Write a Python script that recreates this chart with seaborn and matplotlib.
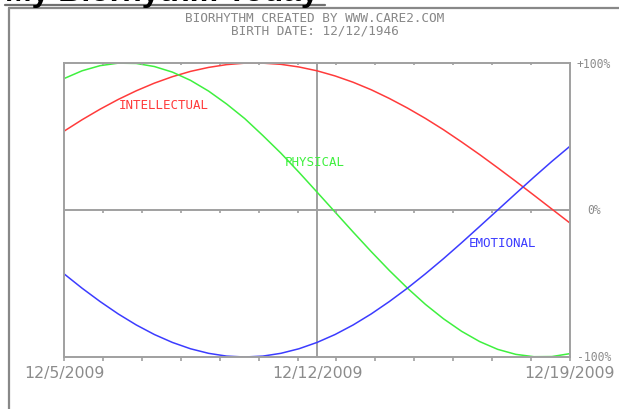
import numpy as np
import pandas as pd
import matplotlib
matplotlib.use("Agg")
import matplotlib.pyplot as plt
from matplotlib.lines import Line2D
import matplotlib.transforms as mtransforms
import seaborn as sns

# ---- data (half-day samples from 12/5 to 12/19/2009) ----
days = [i * 0.5 for i in range(29)]
physical = [0.894, 0.947, 0.982, 0.999, 0.997, 0.976, 0.938, 0.882, 0.809, 0.721,
            0.622, 0.507, 0.387, 0.257, 0.122, -0.014, -0.150, -0.283, -0.411, -0.531,
            -0.642, -0.740, -0.825, -0.895, -0.948, -0.982, -0.998, -0.997, -0.977]
intellectual = [0.536, 0.614, 0.686, 0.752, 0.811, 0.863, 0.907, 0.943, 0.970, 0.989,
                0.999, 0.999, 0.991, 0.973, 0.947, 0.912, 0.869, 0.818, 0.759, 0.694,
                0.623, 0.546, 0.463, 0.377, 0.287, 0.195, 0.101, 0.006, -0.089]
emotional = [-0.434, -0.532, -0.623, -0.707, -0.782, -0.847, -0.901, -0.944, -0.975, -0.994,
             -1.000, -0.994, -0.975, -0.944, -0.901, -0.847, -0.782, -0.707, -0.623, -0.532,
             -0.434, -0.331, -0.223, -0.112, 0.000, 0.112, 0.223, 0.331, 0.434]
series_names = ["INTELLECTUAL", "PHYSICAL", "EMOTIONAL"]
date_labels = ["12/5/2009", "12/12/2009", "12/19/2009"]
date_positions = [0, 7, 14]
pct_labels = ["+100%", "0%", "-100%"]
pct_values = [1, 0, -1]
title_lines = ["BIORHYTHM CREATED BY WWW.CARE2.COM", "BIRTH DATE: 12/12/1946"]
header = "My Biorhythm Today"
n_tick_intervals = 13

colors = {"INTELLECTUAL": "#ff3b3b", "PHYSICAL": "#3ff03f", "EMOTIONAL": "#3c3cff"}

df = pd.concat([
    pd.DataFrame({"day": days, "value": intellectual, "cycle": "INTELLECTUAL"}),
    pd.DataFrame({"day": days, "value": physical, "cycle": "PHYSICAL"}),
    pd.DataFrame({"day": days, "value": emotional, "cycle": "EMOTIONAL"}),
])

sns.set_style("white")
plt.rcParams["font.family"] = ["DejaVu Sans"]

W, H = 619, 410
fig = plt.figure(figsize=(W / 100, H / 100), dpi=100)
fig.patch.set_facecolor("white")
L, R, T, B = 64, 570, 64, 358
ax = fig.add_axes([L / W, 1 - B / H, (R - L) / W, (B - T) / H])

sns.lineplot(data=df, x="day", y="value", hue="cycle", palette=colors,
             linewidth=1.1, ax=ax, legend=False, sort=False, estimator=None)

ax.set_xlim(0, 14)
ax.set_ylim(-1, 1)
gray = "#a0a0a0"
for s in ax.spines.values():
    s.set_color(gray)
    s.set_linewidth(1.4)
ax.axhline(0, color=gray, lw=1.4, zorder=0)
ax.axvline(7, color=gray, lw=1.4, zorder=0)

# ticks
tick_pos = [14 * k / n_tick_intervals for k in range(n_tick_intervals + 1)]
trans = mtransforms.blended_transform_factory(ax.transData, ax.transAxes)
ax.vlines(tick_pos, 1.0, 0.992, transform=trans, color=gray, lw=1.2)
ax.vlines(tick_pos, 0.5, 0.489, transform=trans, color=gray, lw=1.2)
ax.vlines(tick_pos, 0.0, -0.014, transform=trans, color=gray, lw=1.2, clip_on=False)

ax.set_xticks(date_positions)
ax.set_xticklabels(date_labels, fontsize=11.3, color="#8c8c8c")
ax.tick_params(axis="x", length=0, pad=6)
ax.set_yticks([])
ax.set_xlabel("")
ax.set_ylabel("")

# right-side percent labels
ident = mtransforms.IdentityTransform()
for lab, v in zip(pct_labels, pct_values):
    ax.text(594, ax.transData.transform((0, v))[1], lab, transform=ident,
            ha="center", va="center", fontsize=8.3, color="#8c8c8c", family="DejaVu Sans Mono")

# curve labels
label_pos = {"INTELLECTUAL": (2.77, 0.72), "PHYSICAL": (6.93, 0.33), "EMOTIONAL": (12.13, -0.22)}
for name in series_names:
    x, y = label_pos[name]
    ax.text(x, y, name, color=colors[name], fontsize=9, family="DejaVu Sans Mono",
            ha="center", va="center")

# titles
fig.text(315 / W, 1 - 18.5 / H, title_lines[0], ha="center", va="center",
         fontsize=9.2, color="#888888", family="DejaVu Sans Mono")
fig.text(315 / W, 1 - 31 / H, title_lines[1], ha="center", va="center",
         fontsize=9.2, color="#888888", family="DejaVu Sans Mono")

# header (cut off at top) and frame
fig.text(5 / W, 1 - 0.5 / H, header, ha="left", va="baseline", fontsize=23,
         fontweight="bold", color="black", family="Liberation Sans")
fig.add_artist(Line2D([5 / W, 325 / W], [1 - 5.5 / H, 1 - 5.5 / H], color="#707070", lw=1.6))
fig.add_artist(Line2D([9 / W, 1.0], [1 - 9 / H, 1 - 9 / H], color="#888888", lw=1.6))
fig.add_artist(Line2D([9 / W, 9 / W], [1 - 9 / H, 0.0], color="#888888", lw=1.6))

fig.savefig("out.png", dpi=100)
